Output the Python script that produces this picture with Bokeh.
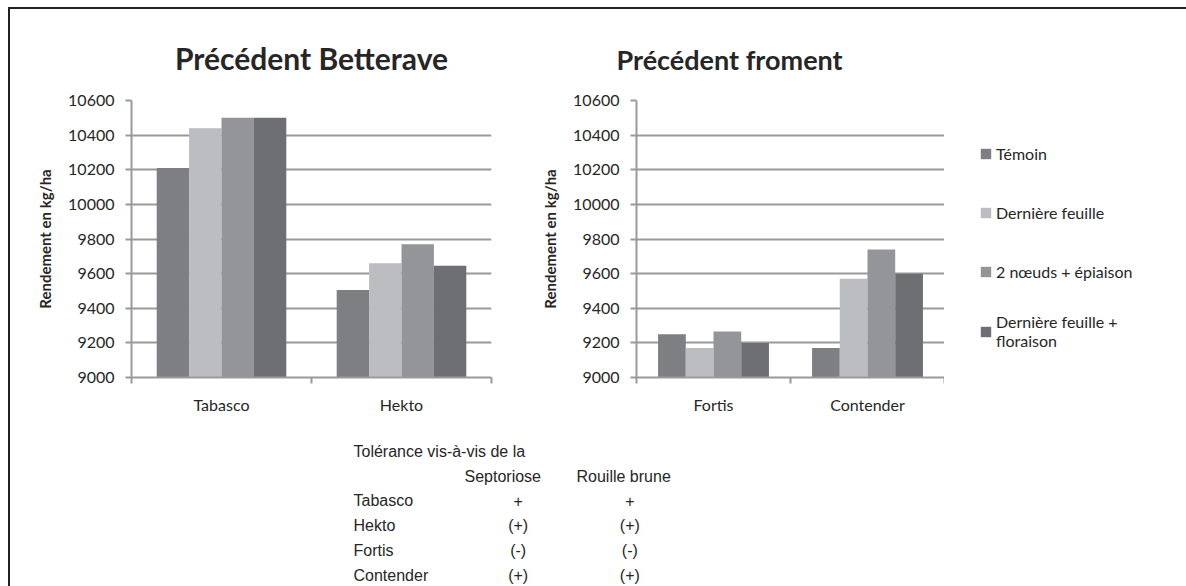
from bokeh.plotting import figure
from bokeh.models import (Range1d, FixedTicker, Legend, LegendItem, Spacer, ColumnDataSource)
from bokeh.layouts import row, column
from bokeh.embed import file_html
from bokeh.resources import INLINE
from bokeh.core.properties import value

# ---------------- data ----------------
series = ["Témoin", "Dernière feuille", "2 nœuds + épiaison", "Dernière feuille +\nfloraison"]
colors = ["#7e7f83", "#bcbdc1", "#949599", "#6e6f73"]

left_title = "Précédent Betterave"
left_cats = ["Tabasco", "Hekto"]
left_vals = [
    [10210, 9505],   # Témoin
    [10440, 9660],   # Dernière feuille
    [10500, 9770],   # 2 nœuds + épiaison
    [10500, 9645],   # Dernière feuille + floraison
]

right_title = "Précédent froment"
right_cats = ["Fortis", "Contender"]
right_vals = [
    [9250, 9170],
    [9170, 9570],
    [9265, 9740],
    [9200, 9600],
]

y_ticks = [9000, 9200, 9400, 9600, 9800, 10000, 10200, 10400, 10600]
y_label = "Rendement en kg/ha"

table_title = "Tolérance vis-à-vis de la"
table_headers = ["Septoriose", "Rouille brune"]
table_varieties = ["Tabasco", "Hekto", "Fortis", "Contender"]
table_septoriose = ["+", "(+)", "(-)", "(+)"]
table_rouille = ["+", "(+)", "(-)", "(+)"]

# ---------------- style ----------------
GRID = "#9a9a9a"
TXT = "#262626"
FRAME = "#231f20"
FONT = "Lato"
BAR_W = 0.18
CH_H = 410
MB_TOP = 91
MB_BOTTOM = 42


def make_chart(cats, vals, title, width, mb_left, mb_right, title_align, title_offset, title_size):
    p = figure(width=width, height=CH_H, x_range=Range1d(0, len(cats)),
               y_range=Range1d(y_ticks[0], y_ticks[-1]),
               output_backend="svg", toolbar_location=None,
               min_border_left=mb_left, min_border_right=mb_right,
               min_border_top=0, min_border_bottom=MB_BOTTOM)
    p.outline_line_color = None
    p.xgrid.visible = False
    p.ygrid.ticker = FixedTicker(ticks=y_ticks)
    p.ygrid.grid_line_color = GRID
    p.ygrid.grid_line_width = 2

    p.title.text = title
    p.title.align = title_align
    p.title.offset = title_offset
    p.title.text_font = FONT
    p.title.text_font_style = "bold"
    p.title.text_font_size = title_size
    p.title.text_color = TXT
    p.title.vertical_align = "bottom"
    p.title.standoff = 50

    n = len(series)
    sources = []
    for k, col in enumerate(colors):
        xs = [i + 0.5 + (k - (n - 1) / 2) * BAR_W for i in range(len(cats))]
        src = ColumnDataSource(dict(x=xs, top=vals[k], cat=cats))
        p.vbar(x="x", top="top", bottom=y_ticks[0], width=BAR_W, source=src,
               fill_color=col, line_color=None)
        sources.append(src)

    yax = p.yaxis[0]
    yax.ticker = FixedTicker(ticks=y_ticks)
    yax.axis_line_color = GRID
    yax.axis_line_width = 2
    yax.major_tick_line_color = GRID
    yax.major_tick_line_width = 2
    yax.major_tick_in = 0
    yax.major_tick_out = 6
    yax.minor_tick_line_color = None
    yax.major_label_text_font = FONT
    yax.major_label_text_font_size = "16px"
    yax.major_label_text_color = TXT
    yax.major_label_standoff = 11
    yax.axis_label = y_label
    yax.axis_label_text_font = FONT
    yax.axis_label_text_font_style = "bold"
    yax.axis_label_text_font_size = "15px"
    yax.axis_label_text_color = TXT
    yax.axis_label_standoff = 11

    xax = p.xaxis[0]
    centers = [i + 0.5 for i in range(len(cats))]
    xax.ticker = FixedTicker(ticks=centers, minor_ticks=list(range(len(cats) + 1)))
    xax.major_label_overrides = {c: lab for c, lab in zip(centers, cats)}
    xax.major_tick_line_color = None
    xax.major_tick_in = 0
    xax.major_tick_out = 0
    xax.minor_tick_line_color = GRID
    xax.minor_tick_line_width = 2
    xax.minor_tick_in = 0
    xax.minor_tick_out = 6
    xax.axis_line_color = GRID
    xax.axis_line_width = 2
    xax.major_label_text_font = FONT
    xax.major_label_text_font_size = "16px"
    xax.major_label_text_color = TXT
    xax.major_label_standoff = 11
    return p, sources


left, _ = make_chart(left_cats, left_vals, left_title, 495, 121, 14, "center", 0, "30px")
right, right_sources = make_chart(right_cats, right_vals, right_title, 439, 131, 0,
                                  "left", -20, "27px")

# ---------------- legend (own panel, right of the second chart) ----------------
lg_fig = figure(width=242, height=CH_H, x_range=Range1d(0, 1), y_range=Range1d(0, 1),
                output_backend="svg", toolbar_location=None,
                min_border_left=0, min_border_top=MB_TOP, min_border_right=0,
                min_border_bottom=MB_BOTTOM,
                x_axis_location=None, y_axis_location=None)
lg_fig.grid.visible = False
lg_fig.outline_line_color = None
items = []
for s, col, src in zip(series, colors, right_sources):
    # legend swatches reuse the right chart's series (not drawn in this panel)
    r = lg_fig.vbar(x="x", top="top", width=BAR_W, source=src, fill_color=col,
                    line_color=None, visible=False)
    items.append(LegendItem(label=value(s), renderers=[r]))
lg = Legend(items=items, location="top_left", orientation="vertical")
lg.border_line_color = None
lg.background_fill_alpha = 0
lg.inactive_fill_alpha = 0
lg.glyph_width = 13
lg.glyph_height = 13
lg.label_text_font = FONT
lg.label_text_font_size = "16px"
lg.label_text_color = TXT
lg.label_standoff = 4
lg.label_height = 36
lg.spacing = 23
lg.padding = 0
lg.margin = 35
lg_fig.add_layout(lg, "center")

# ---------------- table ----------------
TCOL_LABEL = 343
TCOL_HEAD = [454, 566]
TCOL_VAL = [507.7, 619.3]
t = figure(width=1176, height=167, x_range=Range1d(0, 1176), y_range=Range1d(5.465, -1.296),
           output_backend="svg", toolbar_location=None, min_border=0,
           x_axis_location=None, y_axis_location=None)
t.grid.visible = False
t.outline_line_color = None
tfont = dict(text_font=value("Liberation Sans"), text_font_size="16px", text_color=TXT,
             text_baseline="middle")
t.text(x=[TCOL_LABEL], y=[0], text=[table_title], text_align="left", **tfont)
t.text(x=TCOL_HEAD, y=[1, 1], text=table_headers, text_align="left", **tfont)
rows_y = [2 + i for i in range(len(table_varieties))]
t.text(x=[TCOL_LABEL] * len(rows_y), y=rows_y, text=table_varieties, text_align="left", **tfont)
t.text(x=[TCOL_VAL[0]] * len(rows_y), y=rows_y, text=table_septoriose, text_align="center", **tfont)
t.text(x=[TCOL_VAL[1]] * len(rows_y), y=rows_y, text=table_rouille, text_align="center", **tfont)

# ---------------- frame lines & layout ----------------
top_gap = Spacer(width=1186, height=7)
left_gap = Spacer(width=8, height=579)
top_bar = Spacer(width=1178, height=2, styles={"background-color": FRAME})
left_bar = Spacer(width=2, height=577, styles={"background-color": FRAME})
body = column(row(left, right, lg_fig), t)
layout = column(top_gap, row(left_gap, column(top_bar, row(left_bar, body))))

open("out.html", "w").write(file_html(layout, INLINE))
